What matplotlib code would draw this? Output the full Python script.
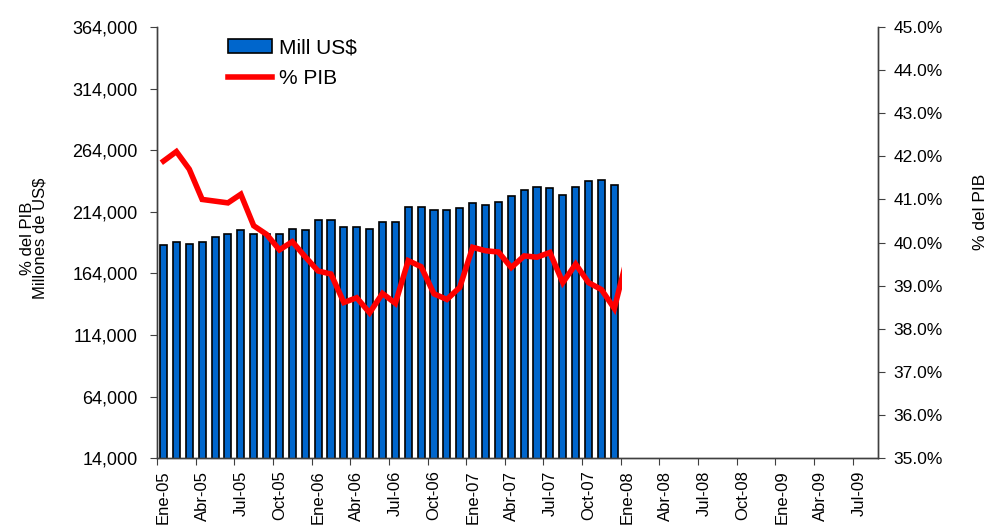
import matplotlib.pyplot as plt
from matplotlib.patches import Rectangle
from matplotlib.ticker import FuncFormatter, FixedLocator

plt.rcParams['font.family'] = ['Liberation Sans', 'DejaVu Sans']

# monthly categories Ene-05 .. Ago-09
meses = ['Ene', 'Feb', 'Mar', 'Abr', 'May', 'Jun', 'Jul', 'Ago', 'Sep', 'Oct', 'Nov', 'Dic']
categorias = [f'{m}-{y:02d}' for y in range(5, 10) for m in meses][:56]

# deuda en millones de US$ (Ene-05 .. Dic-07)
mill_usd = [186700, 189400, 188000, 189400, 193500, 196100, 199100, 196100, 195800, 196100,
            200200, 199100, 207000, 207000, 201600, 201600, 200200, 205600, 205600, 218000,
            218000, 215400, 215400, 216700, 221100, 219400, 222300, 226400, 231600, 234300,
            233200, 227800, 234300, 238700, 240000, 236000]

# % del PIB (Ene-05 .. Ene-08)
pct_pib = [41.89, 42.11, 41.70, 41.00, 40.96, 40.92, 41.12, 40.39, 40.19, 39.83,
           40.02, 39.67, 39.34, 39.27, 38.61, 38.72, 38.37, 38.82, 38.59, 39.58,
           39.44, 38.81, 38.68, 38.96, 39.89, 39.81, 39.78, 39.42, 39.69, 39.66,
           39.77, 39.07, 39.50, 39.07, 38.91, 38.47, 39.66]

fig = plt.figure(figsize=(9.88, 5.29), dpi=100)
ax = fig.add_axes([0.159, 0.134, 0.73, 0.815])
ax2 = ax.twinx()

x_bars = list(range(len(mill_usd)))
x_line = list(range(len(pct_pib)))

bars = ax.bar(x_bars, mill_usd, width=0.55, color='#0066CC', edgecolor='black',
              linewidth=1.2, label='Mill US$', zorder=2)
line, = ax2.plot(x_line, pct_pib, color='#FF0000', lw=4, label='% PIB',
                 solid_joinstyle='miter', zorder=3)
line.set_clip_path(Rectangle((-0.5, 30), 36.1, 20, transform=ax2.transData))

ax.set_xlim(-0.5, len(categorias) - 0.5)
ax.set_ylim(14000, 364000)
ax2.set_ylim(35, 45)

ax.set_yticks(range(14000, 364001, 50000))
ax.yaxis.set_major_formatter(FuncFormatter(lambda v, p: f'{v:,.0f}'))
ax2.set_yticks([35 + i for i in range(11)])
ax2.yaxis.set_major_formatter(FuncFormatter(lambda v, p: f'{v:.1f}%'))

# ticks between categories, labels on category centres
ax.xaxis.set_major_locator(FixedLocator([i - 0.5 for i in range(0, len(categorias), 3)]))
ax.xaxis.set_minor_locator(FixedLocator(list(range(0, len(categorias), 3))))
ax.set_xticklabels([], minor=False)
ax.set_xticklabels([categorias[i] for i in range(0, len(categorias), 3)], minor=True, rotation=90)
ax.tick_params(axis='x', which='major', length=5, direction='out', color='#404040')
ax.tick_params(axis='x', which='minor', length=0, pad=9, labelsize=12)
ax.tick_params(axis='y', length=5, direction='out', pad=9, labelsize=13, color='#404040')
ax2.tick_params(axis='y', length=5, direction='out', pad=6, labelsize=12.5, color='#404040')

for a in (ax, ax2):
    a.spines['top'].set_visible(False)
    for s in ('left', 'right', 'bottom'):
        a.spines[s].set_color('#404040')
        a.spines[s].set_linewidth(1)

ax.set_ylabel('% del PIB\nMillones de US$', fontsize=12, linespacing=0.8)
ax.yaxis.set_label_coords(-0.152, 0.51)
ax2.set_ylabel('% del PIB', fontsize=12.5)
ax2.yaxis.set_label_coords(1.131, 0.57)

ax.legend([bars, line], ['Mill US$', '% PIB'], loc='upper left',
          bbox_to_anchor=(0.072, 1.017), frameon=False, fontsize=15,
          handlelength=2.1, handleheight=0.7, handletextpad=0.35, labelspacing=0.55)

fig.savefig('out.png', dpi=100)
